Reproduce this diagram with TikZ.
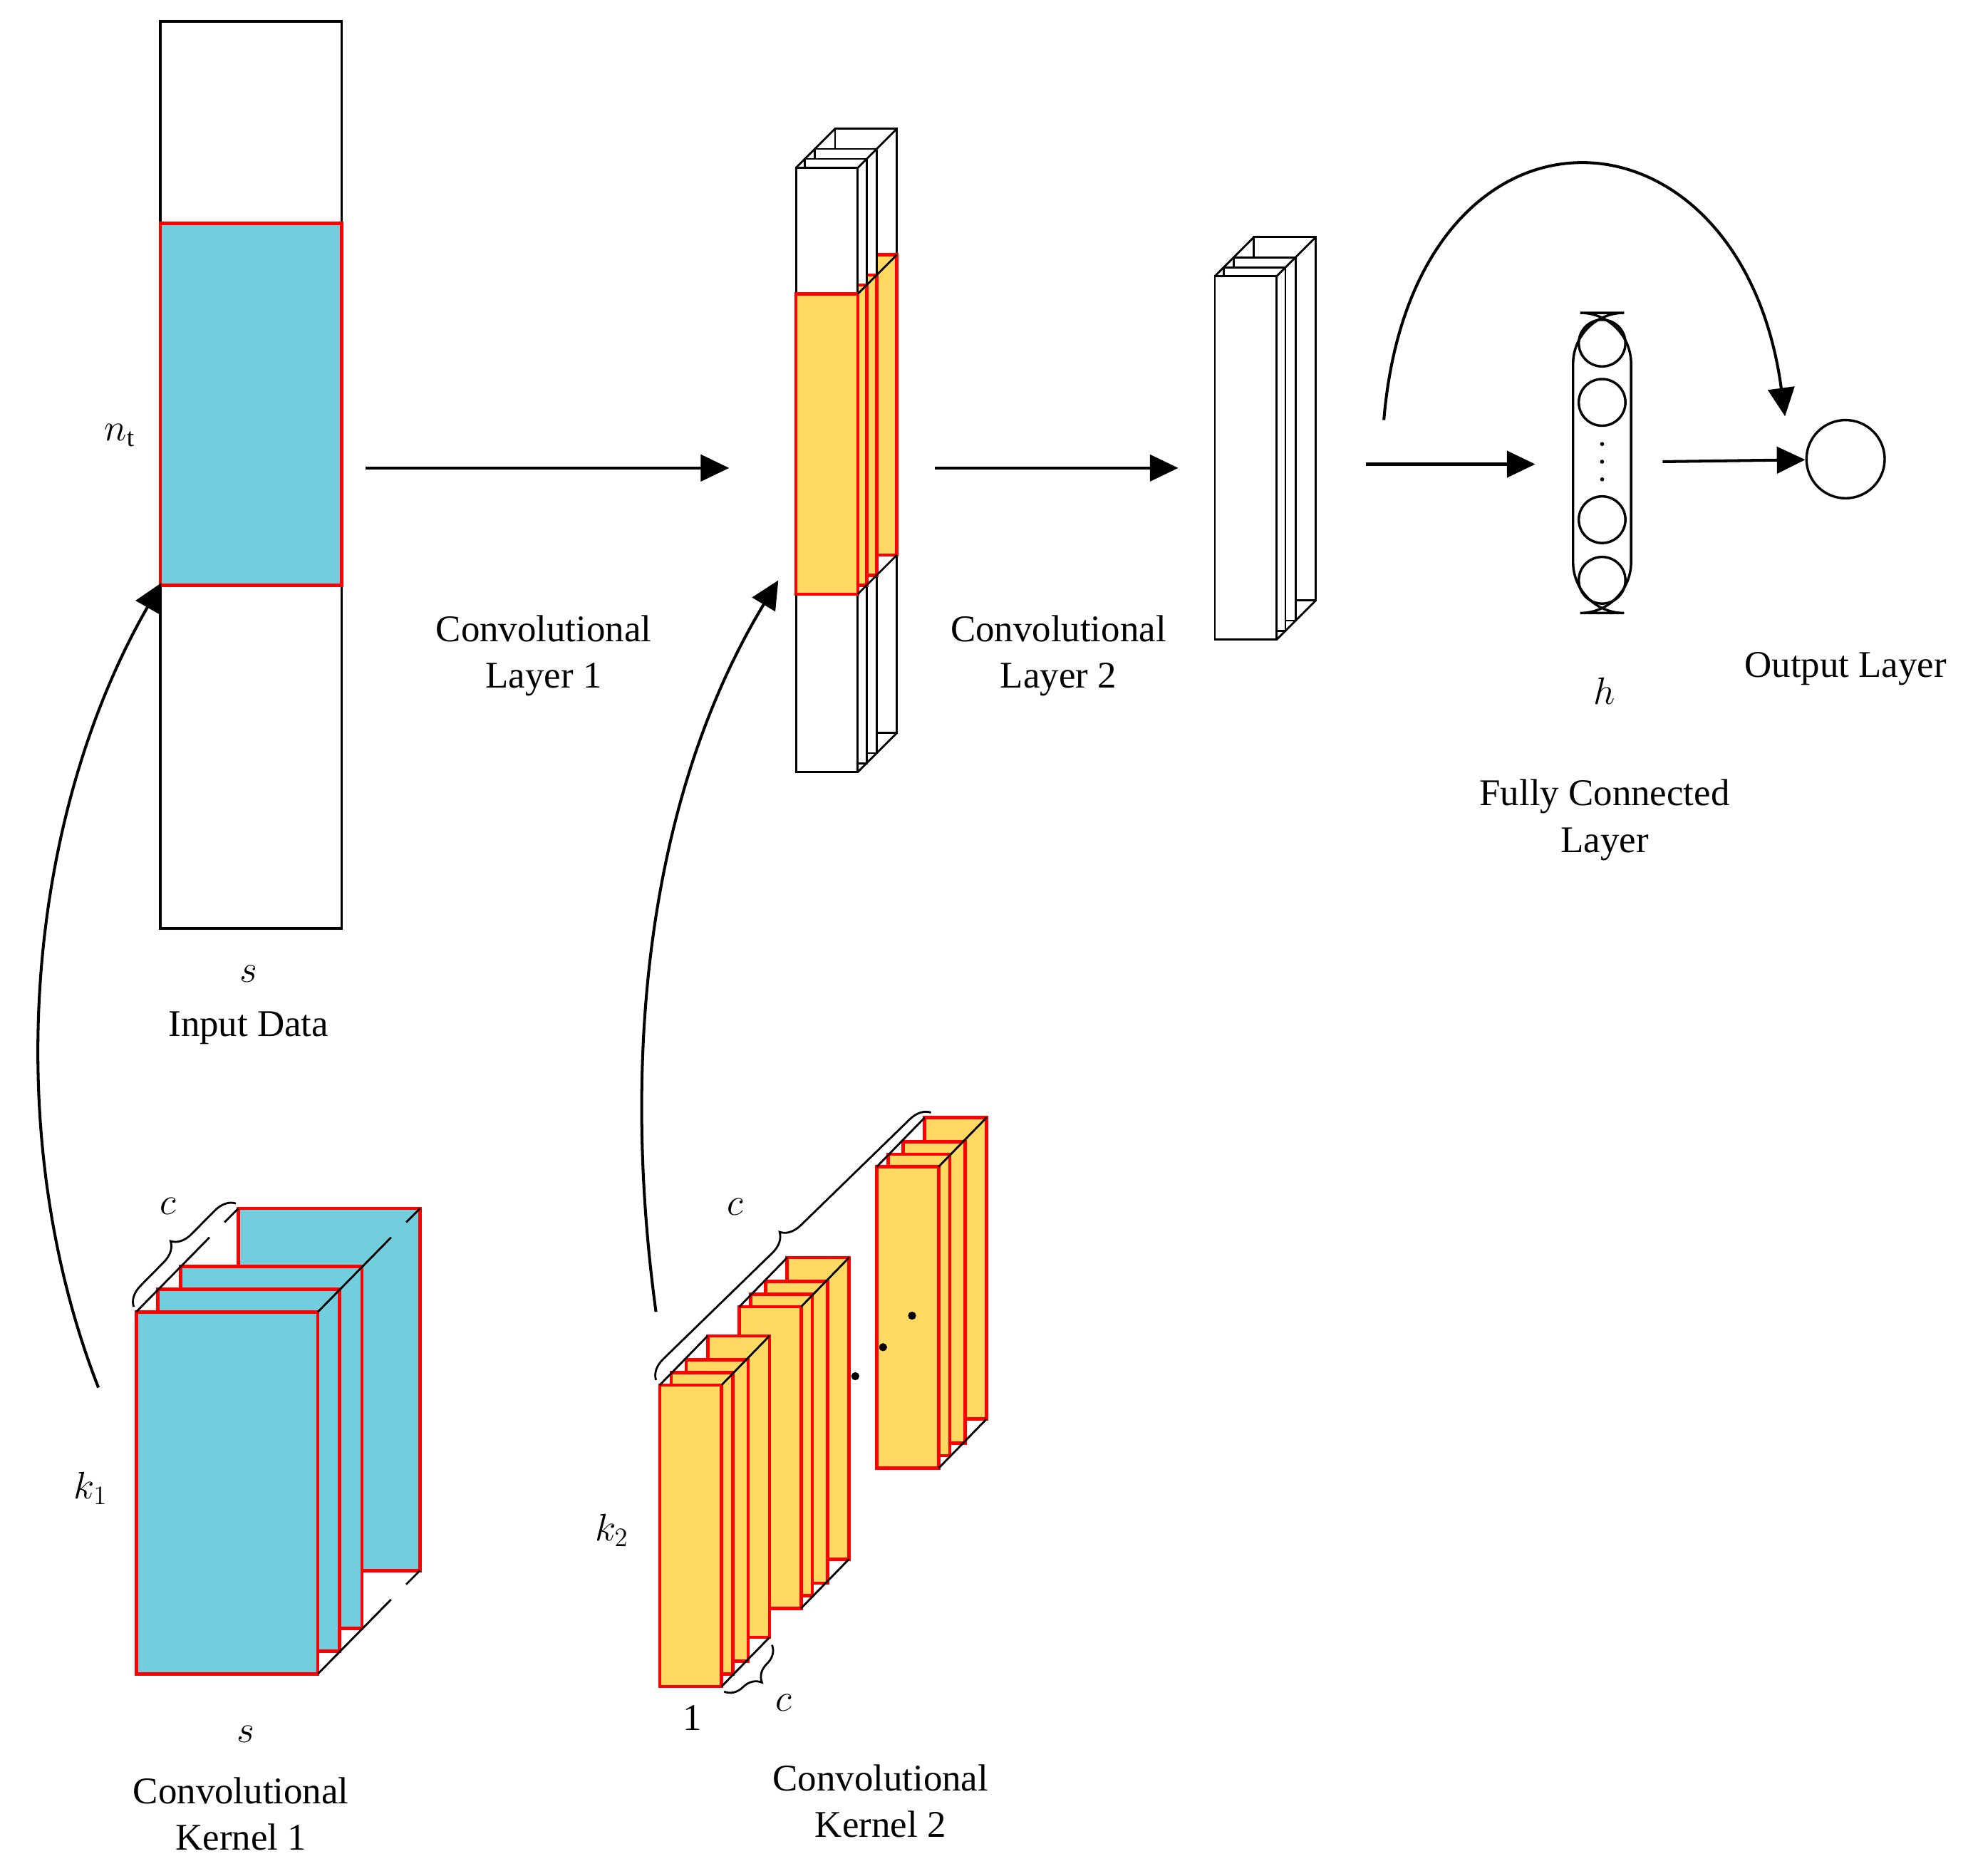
\documentclass[tikz,border=0pt]{standalone}
\usepackage{fontspec}
\setmainfont{Liberation Serif}
\usetikzlibrary{arrows.meta,decorations.pathreplacing}
\definecolor{kcyan}{RGB}{114,205,221}
\definecolor{kyellow}{RGB}{255,217,97}
\tikzset{
  arr/.style={line width=1.3pt, -{Triangle[length=0.45cm,width=0.42cm]}},
  lbl/.style={font=\fontsize{17}{21}\selectfont, align=center},
  face/.style={draw=red, line width=1.5pt, fill=#1},
  wface/.style={draw=black, line width=0.9pt, fill=white},
  edge/.style={draw=black, line width=0.9pt},
  brc/.style={decorate, decoration={brace, amplitude=9pt}, line width=0.9pt}
}
% kernel 2 group: front face top-left corner
\newcommand{\kgroup}[2]{%
  \foreach \o/\p in {38/39,21/20,9/10,0/0}
    \filldraw[face=kyellow] ({#1+\o},{#2-\p}) rectangle ++(49,239);
  \draw[edge] (#1,#2) -- ++(38,-39);
  \draw[edge] ({#1+49},#2) -- ++(38,-39);
  \draw[edge] ({#1+49},{#2+239}) -- ++(38,-39);
}
% feature map stack: x, y, height, yellow start, yellow height
\newcommand{\fmap}[5]{%
  \foreach \o/\p in {31/31,15/15,7/7,0/0}{
    \filldraw[wface] ({#1+\o},{#2-\p}) rectangle ++(49,#3);
    \ifx&#5&\else
    \filldraw[face=kyellow] ({#1+\o},{#2-\p+#4}) rectangle ++(49,#5);
    \fi}
  \draw[edge] (#1,#2) -- ++(31,-31);
  \draw[edge] ({#1+49},#2) -- ++(31,-31);
  \draw[edge] ({#1+49},{#2+#3}) -- ++(31,-31);
}
\begin{document}
\begin{tikzpicture}[x=0.02cm, y=-0.02cm]
  \useasboundingbox (0,0) rectangle (1568,1487);

  % input data
  \draw[line width=1.1pt] (127,17) rectangle (271,736);
  \filldraw[face=kcyan] (127,177) rectangle (271,464);
  \node[lbl] (nt) at (95,345) {$n_{\mathrm{t}}$};
  \node[lbl] (sin) at (197,772) {$s$};
  \node[lbl] (input) at (197,815) {Input Data};

  % convolutional layer 1
  \fmap{631}{133}{479}{100}{238}
  \draw[edge] (680,233) -- ++(31,-31);
  \draw[edge] (680,471) -- ++(31,-31);
  \coordinate (a1s) at (290,371);
  \coordinate (a1e) at (578,371);
  \draw[arr] (a1s) -- (a1e);
  \node[lbl] (conv1) at (431,520) {Convolutional\\Layer 1};

  % convolutional layer 2
  \fmap{963}{219}{288}{}{}
  \coordinate (a2s) at (741,371);
  \coordinate (a2e) at (934,371);
  \draw[arr] (a2s) -- (a2e);
  \node[lbl] (conv2) at (839,520) {Convolutional\\Layer 2};

  % fully connected layer
  \draw[line width=1.1pt, rounded corners=23] (1247,248) rectangle (1293,486);
  \foreach \cy/\nm in {272/c1,319/c2,412/c3,460/c4}
    \node[draw, circle, line width=1.1pt, minimum size=0.74cm, inner sep=0] (\nm) at (1270,\cy) {};
  \foreach \dy in {352,366,380}
    \fill (1270,\dy) circle (1.6);
  \coordinate (a3s) at (1083,368);
  \coordinate (a3e) at (1217,368);
  \draw[arr] (a3s) -- (a3e);
  \node[lbl] (h) at (1272,548) {$h$};
  \node[lbl] (fc) at (1272,650) {Fully Connected\\Layer};

  % output layer
  \node[draw, circle, line width=1.1pt, minimum size=1.24cm, inner sep=0] (out) at (1463,364) {};
  \coordinate (a4s) at (1318,366);
  \draw[arr] (a4s) -- (out);
  \node[lbl] (outl) at (1463,530) {Output Layer};
  \coordinate (skip) at (1097,333);
  \coordinate (skipe) at (1415,330);
  \draw[arr] (skip) .. controls (1120,60) and (1380,70) .. (skipe);

  % convolutional kernel 1
  \foreach \o/\p in {81/82,35/36,17/18,0/0}
    \filldraw[face=kcyan] ({108+\o},{1040-\p}) rectangle ++(144,287);
  \foreach \x/\y in {108/1040,252/1040,252/1327}
    \draw[edge] (\x,\y) -- ++(58,-59) ++(12,-12) -- ++(11,-11);
  \draw[brc] (106,1036) -- (187,954);
  \node[lbl] (c1) at (133,956) {$c$};
  \node[lbl] (k1) at (72,1180) {$k_1$};
  \node[lbl] (sk) at (195,1375) {$s$};
  \node[lbl] (kern1) at (191,1438) {Convolutional\\Kernel 1};
  \coordinate (k1s) at (78,1100);
  \coordinate (k1e) at (128,462);
  \draw[arr] (k1s) .. controls (0,900) and (20,650) .. (k1e);

  % convolutional kernel 2
  \kgroup{695}{925}
  \kgroup{586}{1036}
  \kgroup{523}{1098}
  \foreach \x/\y in {678/1091,700/1068,723/1043}
    \fill (\x,\y) circle (3.2);
  \draw[brc] (520,1094) -- (738,882);
  \node[lbl] (c2) at (583,957) {$c$};
  \draw[brc, decoration={mirror}] (574,1341) -- (612,1304);
  \node[lbl] (c3) at (621,1350) {$c$};
  \node[lbl] (one) at (549,1362) {1};
  \node[lbl] (k2) at (485,1213) {$k_2$};
  \node[lbl] (kern2) at (698,1428) {Convolutional\\Kernel 2};
  \coordinate (k2s) at (520,1040);
  \coordinate (k2e) at (617,460);
  \draw[arr] (k2s) .. controls (490,820) and (520,620) .. (k2e);
\end{tikzpicture}
\end{document}
